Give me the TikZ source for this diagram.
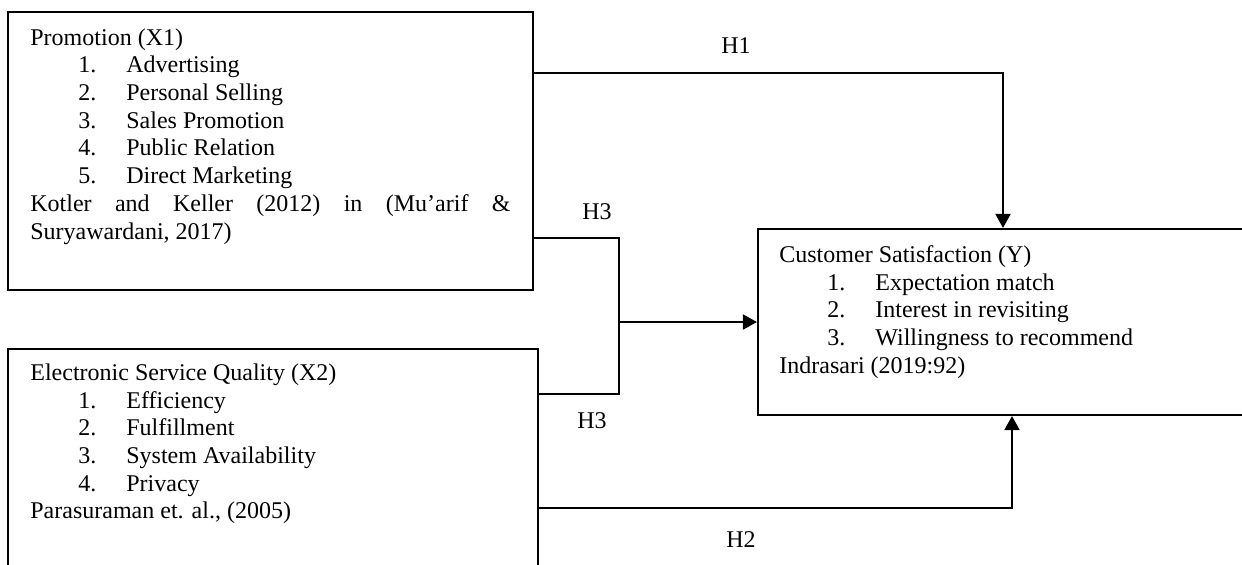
\documentclass[tikz,border=0pt]{standalone}
\usepackage{fontspec}
\setmainfont{Liberation Serif}
\usetikzlibrary{arrows.meta,fit}
\tikzset{
  box/.style={draw,line width=1.1pt,inner sep=0pt},
  txt/.style={anchor=base west,inner sep=0pt,font=\fontsize{12.7pt}{14pt}\selectfont},
  lbl/.style={anchor=base,inner sep=0pt,font=\fontsize{12.7pt}{14pt}\selectfont},
  line/.style={line width=1.1pt},
  link/.style={line width=1.1pt,-{Triangle[length=7.5pt,width=8pt]}}
}
\begin{document}
\begin{tikzpicture}[x=0.529pt,y=-0.529pt]
	  \useasboundingbox (0,0) rectangle (1242,564);
	  \clip (0,0) rectangle (1242,564);
	  % boxes
	  \node[box,fit={(8,12) (533,290)}] (x1) {};
	  \node[box,fit={(8,349) (538,620)}] (x2) {};
	  \node[box,fit={(758,229) (1270,415)}] (y) {};
	  % promotion
	  \node[txt] (x1t) at (30,45) {Promotion (X1)};
	  \node[txt] (x1n1) at (78,72) {1.};
	  \node[txt] (x1i1) at (126,72) {Advertising};
	  \node[txt] (x1n2) at (78,100) {2.};
	  \node[txt] (x1i2) at (126,100) {Personal Selling};
	  \node[txt] (x1n3) at (78,128) {3.};
	  \node[txt] (x1i3) at (126,128) {Sales Promotion};
	  \node[txt] (x1n4) at (78,155) {4.};
	  \node[txt] (x1i4) at (126,155) {Public Relation};
	  \node[txt] (x1n5) at (78,183) {5.};
	  \node[txt] (x1i5) at (126,183) {Direct Marketing};
	  \node[txt] (x1s1) at (30,211) {\makebox[254pt][s]{Kotler and Keller (2012) in (Mu’arif \&}};
	  \node[txt] (x1s2) at (30,239) {Suryawardani, 2017)};
	  % e-service quality
	  \node[txt] (x2t) at (30,380) {Electronic Service Quality (X2)};
	  \node[txt] (x2n1) at (78,408) {1.};
	  \node[txt] (x2i1) at (126,408) {Efficiency};
	  \node[txt] (x2n2) at (78,435) {2.};
	  \node[txt] (x2i2) at (126,435) {Fulfillment};
	  \node[txt] (x2n3) at (78,463) {3.};
	  \node[txt] (x2i3) at (126,463) {System Availability};
	  \node[txt] (x2n4) at (78,491) {4.};
	  \node[txt] (x2i4) at (126,491) {Privacy};
	  \node[txt] (x2s) at (30,518) {Parasuraman et. al., (2005)};
	  % satisfaction
	  \node[txt] (yt) at (779,262) {Customer Satisfaction (Y)};
	  \node[txt] (yn1) at (827,290) {1.};
	  \node[txt] (yi1) at (875,290) {Expectation match};
	  \node[txt] (yn2) at (827,317) {2.};
	  \node[txt] (yi2) at (875,317) {Interest in revisiting};
	  \node[txt] (yn3) at (827,345) {3.};
	  \node[txt] (yi3) at (875,345) {Willingness to recommend};
	  \node[txt] (ys) at (779,373) {Indrasari (2019:92)};
	  % hypotheses
	  \coordinate (h1) at (1003,73);
	  \coordinate (h2) at (1012,508);
	  \coordinate (j) at (619,238);
	  \coordinate (jb) at (619,394);
	  \draw[link] (x1.east |- h1) -- (h1) -- (h1 |- y.north);
	  \draw[link] (x2.east |- h2) -- (h2) -- (h2 |- y.south);
	  \draw[line] (x1.east |- j) -- (j) -- (jb) -- (x2.east |- jb);
	  \draw[link] (j |- y.west) -- (y.west);
	  \node[lbl] (lh1) at (736,53) {H1};
	  \node[lbl] (lh3a) at (597,219) {H3};
	  \node[lbl] (lh3b) at (592,428) {H3};
	  \node[lbl] (lh2) at (741,547) {H2};
\end{tikzpicture}
\end{document}
